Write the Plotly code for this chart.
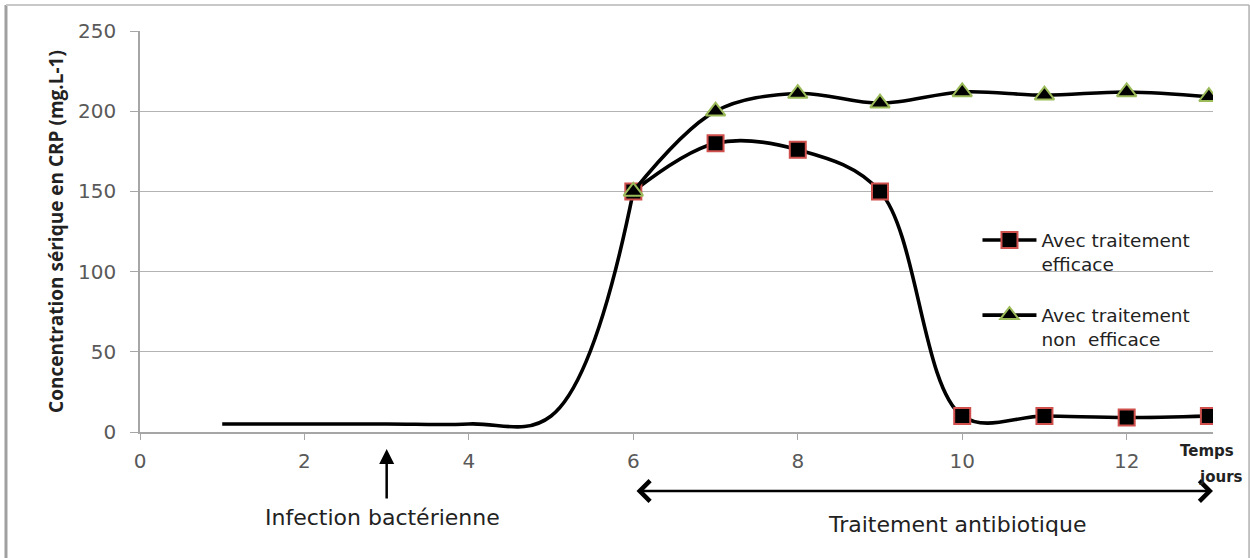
import plotly.graph_objects as go

# Data
days_base = [1, 2, 3, 4, 5, 6]
crp_base = [5, 5, 5, 5, 10, 150]

days_treat = [6, 7, 8, 9, 10, 11, 12, 13]
crp_efficace = [150, 180, 176, 150, 10, 10, 9, 10]
crp_non_efficace = [150, 200, 211, 205, 212, 210, 212, 209]

x_ticks = [0, 2, 4, 6, 8, 10, 12]
y_ticks = [0, 50, 100, 150, 200, 250]

fig = go.Figure()

fig.add_trace(go.Scatter(
    x=days_base, y=crp_base, mode="lines",
    line=dict(color="black", width=3.6, shape="spline", smoothing=1.1),
    showlegend=False, hoverinfo="skip"))

fig.add_trace(go.Scatter(
    x=days_treat, y=crp_efficace, mode="lines+markers",
    name="Avec traitement<br>efficace", legendgroup="a",
    line=dict(color="black", width=3.6, shape="spline", smoothing=1),
    marker=dict(symbol="square", size=16, color="black",
                line=dict(color="#d0504d", width=2))))

fig.add_trace(go.Scatter(
    x=days_treat, y=crp_non_efficace, mode="lines+markers",
    name="Avec traitement<br>non  efficace", legendgroup="b",
    line=dict(color="black", width=3.6, shape="spline", smoothing=1),
    marker=dict(symbol="triangle-up", size=17, color="black",
                line=dict(color="#9bbb59", width=2))))

grey = "#595959"
fig.update_layout(
    width=1250, height=558,
    paper_bgcolor="white", plot_bgcolor="white",
    margin=dict(l=140, r=37, t=31, b=126),
    font=dict(family="DejaVu Sans", color="#222"),
    showlegend=True,
    legend=dict(x=0.7805, y=0.525, xanchor="left", yanchor="top",
                bgcolor="rgba(0,0,0,0)", font=dict(family="DejaVu Sans", size=18.5, color="#222"),
                traceorder="grouped", tracegroupgap=24, itemwidth=54, valign="top"),
    xaxis=dict(range=[0, 13.05], tickvals=x_ticks, showgrid=False,
               zeroline=False, showline=True, linecolor="#a6a6a6", linewidth=1.5,
               ticks="outside", ticklen=6, tickcolor="#a6a6a6", ticklabelstandoff=4,
               tickfont=dict(family="DejaVu Sans", size=20, color=grey)),
    yaxis=dict(range=[0, 250], tickvals=y_ticks, showgrid=True,
               gridcolor="#b3b3b3", gridwidth=1.2, zeroline=False,
               showline=True, linecolor="#a6a6a6", linewidth=1.5,
               ticks="outside", ticklen=8, tickcolor="#a6a6a6", ticklabelstandoff=10,
               tickfont=dict(family="DejaVu Sans", size=20, color=grey),
               title=dict(text="<b>Concentration sérique en CRP (mg.L-1)</b>",
                          font=dict(family="Open Sans", size=19, color="#222"),
                          standoff=9)),
    shapes=[
        dict(type="line", xref="paper", yref="paper", x0=-0.1249, x1=-0.1249,
             y0=-0.4, y1=1.0648, line=dict(color="#a0a0a0", width=3)),
        dict(type="line", xref="paper", yref="paper", x0=-0.1249, x1=1.0336,
             y0=1.0648, y1=1.0648, line=dict(color="#c8c8c8", width=2)),
        dict(type="line", xref="paper", yref="paper", x0=1.0336, x1=1.0336,
             y0=-0.4, y1=1.0648, line=dict(color="#b0b0b0", width=1.5)),
    ],
)

anns = []
# up arrow at infection
anns.append(dict(x=3, y=-0.0424, xref="x", yref="paper",
                 ax=0, ay=51, axref="pixel", ayref="pixel", showarrow=True,
                 arrowhead=2, arrowsize=1.2, arrowwidth=2.5, arrowcolor="black", text=""))
anns.append(dict(x=2.95, y=-0.212, xref="x", yref="paper", showarrow=False,
                 text="Infection bactérienne", yanchor="middle",
                 font=dict(family="DejaVu Sans", size=22, color="#222")))
# double arrow for treatment
anns.append(dict(x=1.0, y=-0.147, xref="paper", yref="paper",
                 ax=-578, ay=0, axref="pixel", ayref="pixel", showarrow=True,
                 arrowhead=4, startarrowhead=4, arrowside="end+start",
                 arrowsize=1.6, startarrowsize=1.6, arrowwidth=2.5,
                 arrowcolor="black", text=""))
anns.append(dict(x=9.94, y=-0.231, xref="x", yref="paper", showarrow=False,
                 text="Traitement antibiotique", yanchor="middle",
                 font=dict(family="DejaVu Sans", size=22, color="#222")))
anns.append(dict(x=12.98, y=-0.0474, xref="x", yref="paper", showarrow=False,
                 xanchor="center", yanchor="middle", text="<b>Temps</b>",
                 font=dict(family="DejaVu Sans", size=15, color="#222")))
anns.append(dict(x=1.0075, y=-0.112, xref="paper", yref="paper", showarrow=False,
                 xanchor="center", yanchor="middle", text="<b>jours</b>",
                 font=dict(family="DejaVu Sans", size=15, color="#222")))
fig.update_layout(annotations=anns)

fig.write_html("out.html", config={"displayModeBar": False},
               post_script="document.body.style.margin='0';")
